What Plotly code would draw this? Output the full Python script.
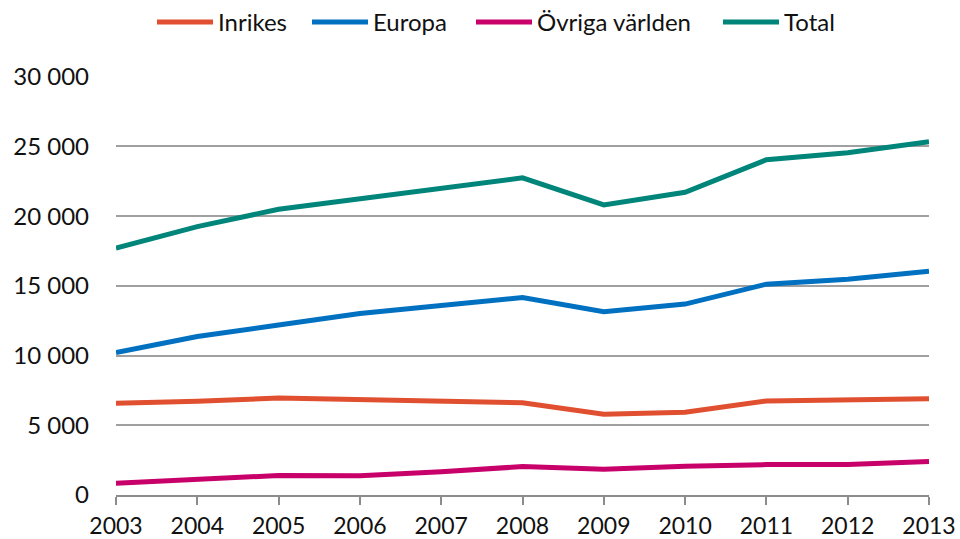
import plotly.graph_objects as go

years = [2003, 2004, 2005, 2006, 2007, 2008, 2009, 2010, 2011, 2012, 2013]
inrikes = [6575, 6720, 6960, 6860, 6745, 6620, 5790, 5930, 6745, 6840, 6910]
europa = [10225, 11370, 12185, 13020, 13590, 14165, 13140, 13690, 15120, 15480, 16050]
ovriga = [845, 1160, 1400, 1375, 1660, 2040, 1850, 2060, 2180, 2180, 2400]
total = [17700, 19245, 20490, 21230, 22000, 22750, 20800, 21710, 24040, 24545, 25330]

series_names = ["Inrikes", "Europa", "Övriga världen", "Total"]
series_values = [inrikes, europa, ovriga, total]
series_colors = ["#E04F2F", "#0070C0", "#C8006A", "#00857A"]

y_ticks = [0, 5000, 10000, 15000, 20000, 25000, 30000]
y_labels = ["0", "5 000", "10 000", "15 000", "20 000", "25 000", "30 000"]

W, H = 960, 539
ML, MR, MT, MB = 116, 31, 76, 44
PW, PH = W - ML - MR, H - MT - MB

FONT = "Lato, sans-serif"

fig = go.Figure()
for name, vals, col in zip(series_names, series_values, series_colors):
    fig.add_trace(go.Scatter(x=years, y=vals, name=name, mode="lines",
                             line=dict(color=col, width=5), showlegend=False,
                             hoverinfo="skip"))

# custom legend (pixel layout converted to paper coordinates)
legend_swatch_px = [(157, 213), (312, 368), (476, 532), (723, 779)]
legend_y_px = 22
shapes = []
annotations = []
for (x0, x1), name, col in zip(legend_swatch_px, series_names, series_colors):
    yp = (H - MB - legend_y_px) / PH
    shapes.append(dict(type="line", xref="paper", yref="paper",
                       x0=(x0 - ML) / PW, x1=(x1 - ML) / PW, y0=yp, y1=yp,
                       line=dict(color=col, width=5)))
    annotations.append(dict(xref="paper", yref="paper", x=(x1 + 3 - ML) / PW,
                            y=(H - MB - 21) / PH, text=name, showarrow=False,
                            xanchor="left", yanchor="middle",
                            font=dict(family=FONT, size=24, color="#111")))

fig.update_layout(
    width=W, height=H,
    margin=dict(l=ML, r=MR, t=MT, b=MB, autoexpand=False),
    plot_bgcolor="white", paper_bgcolor="white",
    font=dict(family=FONT, size=24, color="#111"),
    showlegend=False,
    shapes=shapes,
    annotations=annotations,
    xaxis=dict(range=[2003, 2013], tickmode="array", tickvals=years,
               ticktext=[str(y) for y in years], automargin=False,
               showgrid=False, zeroline=False, showline=True, linecolor="#8c8c8c",
               linewidth=2, ticks="outside", ticklen=8, tickcolor="#8c8c8c",
               tickwidth=2, tickfont=dict(size=23), ticklabelstandoff=1),
    yaxis=dict(range=[0, 30050], tickmode="array", tickvals=y_ticks, ticktext=y_labels,
               automargin=False,
               showgrid=True, gridcolor="#a0a0a0", gridwidth=2, zeroline=False,
               showline=False, ticks="", ticklabelstandoff=26, tickfont=dict(size=24)),
)

fig.write_html("out.html", config={"displayModeBar": False, "staticPlot": True},
               post_script="document.body.style.margin='0';document.body.style.overflow='hidden';")
